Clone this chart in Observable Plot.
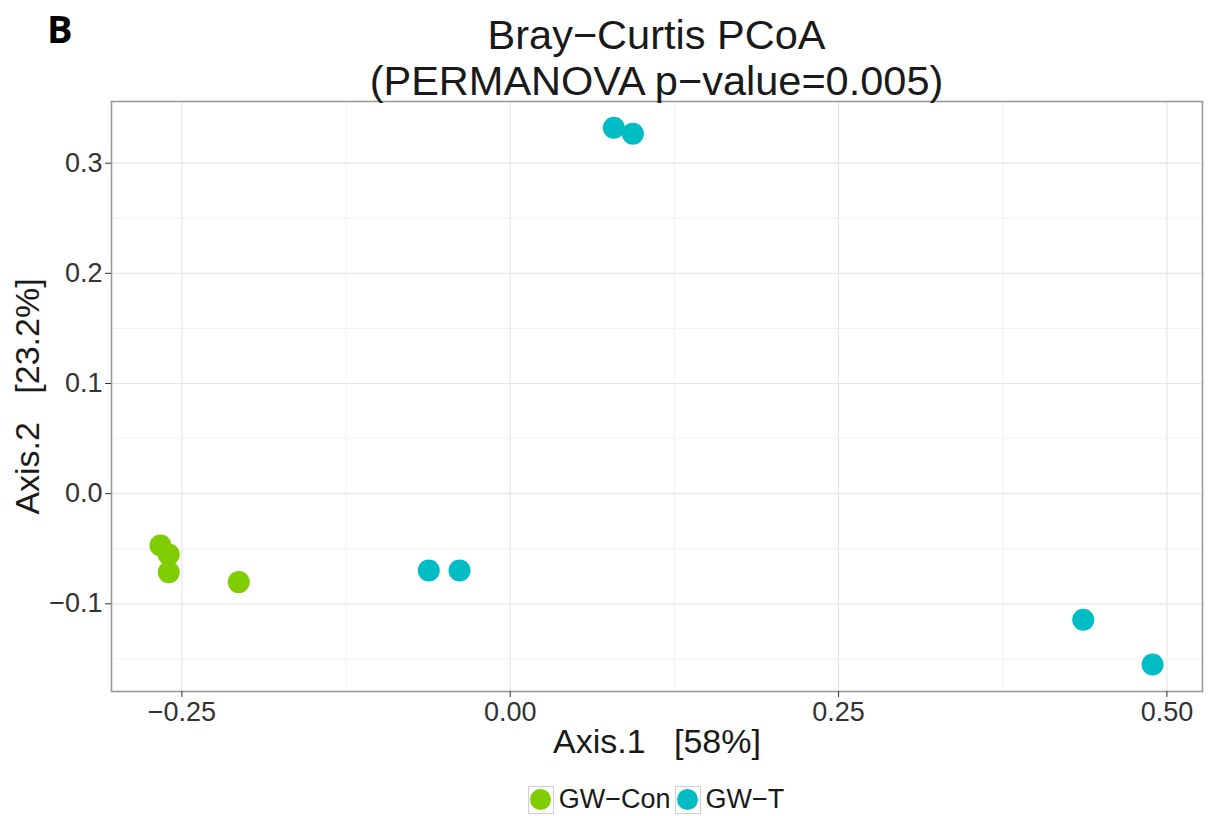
<!DOCTYPE html>
<html>
<head>
<meta charset="utf-8">
<script src="https://cdn.jsdelivr.net/npm/d3@7"></script>
<script src="https://cdn.jsdelivr.net/npm/@observablehq/plot@0.6"></script>
<style>
  body { margin: 0; background: white; }
  #wrap { position: relative; width: 1211px; height: 816px; font-family: "Liberation Sans", Arial, sans-serif; }
  #panelB { position: absolute; left: 47px; top: 4px; font: bold 38px "Open Sans", "DejaVu Sans", sans-serif; color: #000; line-height: 48px; }
  #title { position: absolute; left: 111px; width: 1091px; top: 12px; text-align: center; font-size: 41.5px; line-height: 46px; color: #1a1a1a; }
  #legend { position: absolute; left: 0; width: 1316px; top: 784px; display: flex; justify-content: center; align-items: center; font-size: 27px; color: #1a1a1a; }
  .key { width: 26px; height: 28px; border: 1px solid #cfcfcf; background: #fff; display: flex; align-items: center; justify-content: center; box-sizing: border-box; margin-right: 5px; }
  .key span { width: 21px; height: 21px; border-radius: 50%; display: block; }
  .lab { margin-right: 4px; }
</style>
</head>
<body>
<div id="wrap">
  <div id="chart"></div>
  <div id="panelB">B</div>
  <div id="title">Bray−Curtis PCoA<br>(PERMANOVA p−value=0.005)</div>
  <div id="legend"></div>
</div>
<script>
// Data
const groups = ["GW−Con", "GW−T"];
const groupColors = ["#7fcd00", "#00bcc4"];
const sampleGroup = ["GW−Con","GW−Con","GW−Con","GW−Con","GW−T","GW−T","GW−T","GW−T","GW−T","GW−T"];
const axis1 = [-0.2663, -0.2600, -0.2600, -0.2067, -0.0620, -0.0386, 0.0789, 0.0934, 0.4363, 0.4891];
const axis2 = [-0.0470, -0.0552, -0.0713, -0.0803, -0.0697, -0.0697, 0.3322, 0.3267, -0.1145, -0.1551];
const xTicks = [-0.25, 0, 0.25, 0.5];
const yTicks = [-0.1, 0, 0.1, 0.2, 0.3];
const xMinor = [-0.125, 0.125, 0.375];
const yMinor = [-0.15, -0.05, 0.05, 0.15, 0.25];
const xTitle = "Axis.1\u00a0\u00a0\u00a0[58%]";
const yTitle = "Axis.2\u00a0\u00a0\u00a0[23.2%]";

const points = axis1.map((x, i) => ({x, y: axis2[i], group: sampleGroup[i]}));

const chart = Plot.plot({
  width: 1211,
  height: 816,
  marginLeft: 111,
  marginRight: 9,
  marginTop: 101,
  marginBottom: 125,
  style: {fontFamily: "'Liberation Sans', Arial, sans-serif", background: "white"},
  x: {domain: [-0.3036, 0.5271]},
  y: {domain: [-0.1796, 0.356]},
  color: {domain: groups, range: groupColors},
  marks: [
    Plot.gridX(xMinor, {stroke: "#f3f3f3", strokeOpacity: 1, strokeWidth: 1}),
    Plot.gridY(yMinor, {stroke: "#f3f3f3", strokeOpacity: 1, strokeWidth: 1}),
    Plot.gridX(xTicks, {stroke: "#e6e6e6", strokeOpacity: 1, strokeWidth: 1.2}),
    Plot.gridY(yTicks, {stroke: "#e6e6e6", strokeOpacity: 1, strokeWidth: 1.2}),
    Plot.frame({stroke: "#9a9a9a", strokeWidth: 1.6}),
    Plot.dot(points, {x: "x", y: "y", fill: "group", r: 11, stroke: null}),
    Plot.axisX(xTicks, {tickFormat: d3.format(".2f"), tickSize: 6, tickPadding: 4, fontSize: 27, stroke: "#333", fill: "#333", label: null}),
    Plot.axisY(yTicks, {tickFormat: d3.format(".1f"), tickSize: 6, tickPadding: 3, fontSize: 27, stroke: "#333", fill: "#333", label: null}),
    Plot.text([xTitle], {frameAnchor: "bottom", textAnchor: "middle", dy: 61, fontSize: 34, fill: "#1a1a1a"}),
    Plot.text([yTitle], {frameAnchor: "left", textAnchor: "middle", dx: -83, rotate: -90, fontSize: 34, fill: "#1a1a1a"})
  ]
});
document.getElementById("chart").appendChild(chart);

const legend = document.getElementById("legend");
groups.forEach((g, i) => {
  const key = document.createElement("div");
  key.className = "key";
  const s = document.createElement("span");
  s.style.background = groupColors[i];
  key.appendChild(s);
  const lab = document.createElement("div");
  lab.className = "lab";
  lab.textContent = g;
  legend.appendChild(key);
  legend.appendChild(lab);
});
</script>
</body>
</html>
